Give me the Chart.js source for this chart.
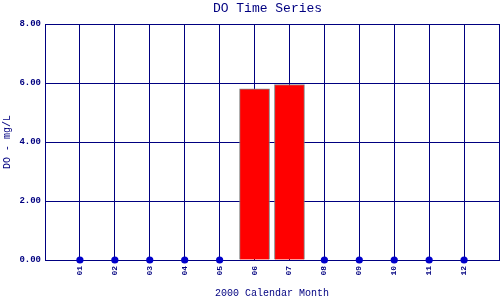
<!DOCTYPE html>
<html>
<head>
<meta charset="utf-8">
<script src="https://cdn.jsdelivr.net/npm/chart.js@4/dist/chart.umd.min.js"></script>
<style>
  html, body { margin: 0; padding: 0; background: #ffffff; }
  #wrap { width: 500px; height: 300px; }
</style>
</head>
<body>
<div id="wrap"><canvas id="c" width="500" height="300"></canvas></div>
<script>
const chartTitle = 'DO Time Series';
const xTitle = '2000 Calendar Month';
const yTitle = 'DO - mg/L';
const monthLabels = ['01','02','03','04','05','06','07','08','09','10','11','12'];
const barMonths = [6, 7];
const barValues = [5.8, 5.95];
const markerMonths = [1, 2, 3, 4, 5, 8, 9, 10, 11, 12];
const markerValues = [0, 0, 0, 0, 0, 0, 0, 0, 0, 0];
const yTickValues = [0, 2, 4, 6, 8];

const NAVY = '#000080';
const MONO = '"Liberation Mono", "DejaVu Sans Mono", monospace';

const titlePlugin = {
  id: 'titlePlugin',
  afterDraw(chart) {
    const ctx = chart.ctx;
    ctx.save();
    ctx.fillStyle = NAVY;
    ctx.font = '13px ' + MONO;
    ctx.textAlign = 'center';
    ctx.textBaseline = 'middle';
    ctx.fillText(chartTitle, 267.5, 9);
    ctx.restore();
  }
};

new Chart(document.getElementById('c'), {
  type: 'bar',
  data: {
    datasets: [
      {
        type: 'bar',
        data: barMonths.map((m, i) => ({ x: m, y: barValues[i] })),
        backgroundColor: '#ff0000',
        borderColor: '#808080',
        borderWidth: 1,
        barThickness: 30,
        order: 2
      },
      {
        type: 'scatter',
        data: markerMonths.map((m, i) => ({ x: m, y: markerValues[i] })),
        backgroundColor: '#0000cc',
        borderColor: '#0000cc',
        borderWidth: 0,
        pointRadius: 3.6,
        showLine: false,
        clip: false,
        order: 1
      }
    ]
  },
  options: {
    responsive: false,
    animation: false,
    devicePixelRatio: 1,
    layout: { autoPadding: false, padding: { left: 0, right: 1, top: 24, bottom: 0 } },
    plugins: {
      legend: { display: false },
      tooltip: { enabled: false },
      title: { display: false }
    },
    scales: {
      x: {
        type: 'linear',
        min: 0,
        max: 13,
        offset: false,
        afterBuildTicks(axis) {
          const t = [];
          for (let i = 0; i <= 13; i++) t.push({ value: i });
          axis.ticks = t;
        },
        afterFit(axis) {
          axis.height = 40;
          axis.paddingLeft = 0;
          axis.paddingRight = 0;
        },
        grid: { color: NAVY, lineWidth: 1, drawTicks: false, offset: false },
        border: { color: NAVY, width: 1 },
        ticks: {
          autoSkip: false,
          minRotation: 90,
          maxRotation: 90,
          padding: 6,
          color: NAVY,
          font: { family: MONO, size: 8, weight: 'bold' },
          callback(v) {
            return (v >= 1 && v <= 12) ? monthLabels[v - 1] : '';
          }
        },
        title: {
          display: true,
          text: xTitle,
          color: NAVY,
          font: { family: MONO, size: 10 },
          padding: { top: 0, bottom: 1 }
        }
      },
      y: {
        min: 0,
        max: 8,
        afterBuildTicks(axis) {
          axis.ticks = yTickValues.map(v => ({ value: v }));
        },
        afterFit(axis) {
          axis.width = 45;
          axis.paddingTop = 0;
          axis.paddingBottom = 0;
        },
        grid: { color: NAVY, lineWidth: 1, drawTicks: false },
        border: { color: NAVY, width: 1 },
        ticks: {
          padding: 4,
          color: NAVY,
          font: { family: MONO, size: 9, weight: 'bold' },
          callback(v) { return Number(v).toFixed(2); }
        },
        title: {
          display: true,
          text: yTitle,
          color: NAVY,
          font: { family: MONO, size: 10 },
          padding: { top: 1, bottom: 0 }
        }
      }
    }
  },
  plugins: [titlePlugin]
});
</script>
</body>
</html>
